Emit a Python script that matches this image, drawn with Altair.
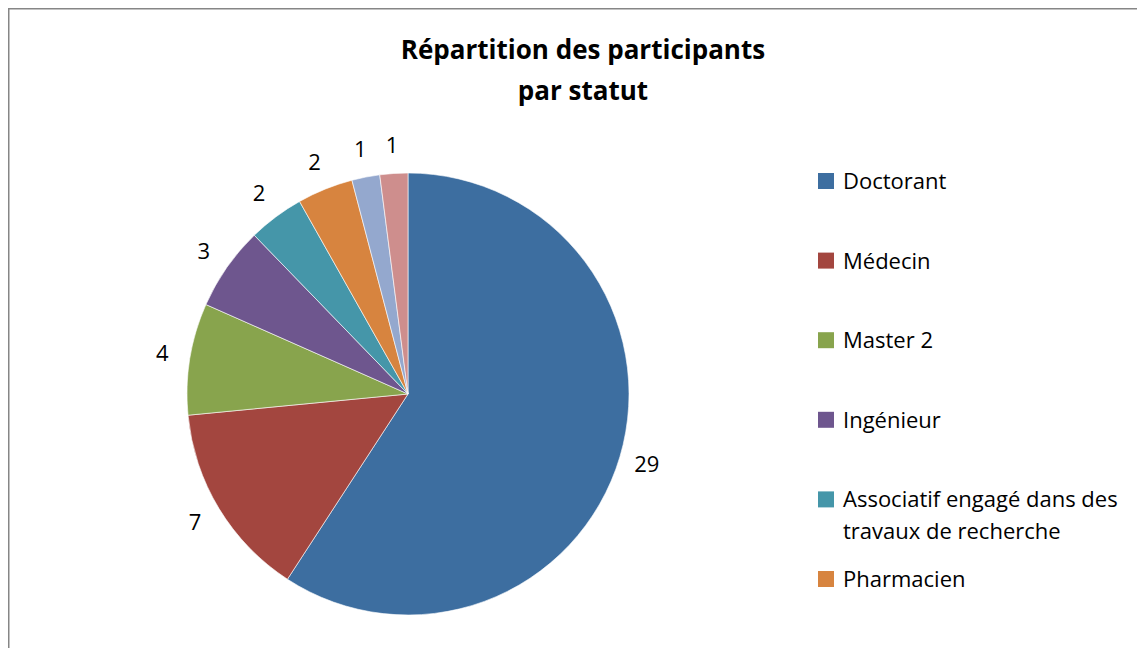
import altair as alt
import pandas as pd

# ---- data ----
categories = [
    "Doctorant",
    "Médecin",
    "Master 2",
    "Ingénieur",
    "Associatif engagé dans des travaux de recherche",
    "Pharmacien",
    "Autre 1",
    "Autre 2",
]
valeurs = [29, 7, 4, 3, 2, 2, 1, 1]
couleurs = ["#3D6EA0", "#A3463F", "#88A44D", "#6E568E", "#4596A9", "#D7843F", "#94A8CE", "#CE8E8D"]
legende_visible = categories[:6]
etiquettes_legende = [
    "Doctorant",
    "Médecin",
    "Master 2",
    "Ingénieur",
    "Associatif engagé dans des\ntravaux de recherche",
    "Pharmacien",
    "Autre 1",
    "Autre 2",
]
titre_lignes = ["Répartition des participants", "par statut"]

df = pd.DataFrame({
    "categorie": categories,
    "valeur": valeurs,
    "ordre": list(range(len(categories))),
    "etiquette": etiquettes_legende,
})

FONT = "Open Sans"
W, H = 1129, 640
CX, CY, R = 400, 386, 221

color = alt.Color("categorie:N", scale=alt.Scale(domain=categories, range=couleurs), legend=None)

base = alt.Chart(df)

pie = base.mark_arc(outerRadius=R, stroke="white", strokeWidth=0.6).encode(
    theta=alt.Theta("valeur:Q", stack=True),
    order=alt.Order("ordre:Q"),
    color=color,
    x=alt.value(CX),
    y=alt.value(CY),
)

labels = base.mark_text(radius=R + 28, font=FONT, fontSize=22, color="black",
                        align="center", baseline="middle").encode(
    theta=alt.Theta("valeur:Q", stack=True),
    order=alt.Order("ordre:Q"),
    text=alt.Text("valeur:Q"),
    x=alt.value(CX),
    y=alt.value(CY),
)

leg_y = alt.Y("categorie:N",
              scale=alt.Scale(type="point", domain=legende_visible, range=[173, 571], padding=0),
              axis=None)

leg_sym = base.transform_filter(
    alt.FieldOneOfPredicate(field="categorie", oneOf=legende_visible)
).mark_square(size=256, opacity=1, filled=True).encode(
    x=alt.value(818),
    y=leg_y,
    color=color,
)

leg_txt = base.transform_filter(
    alt.FieldOneOfPredicate(field="categorie", oneOf=legende_visible)
).mark_text(font=FONT, fontSize=22, color="black", align="left", baseline="alphabetic",
            dy=8, lineBreak="\n", lineHeight=32).encode(
    x=alt.value(835),
    y=leg_y,
    text="etiquette:N",
)

titre = alt.Chart(pd.DataFrame({"t": [0]})).mark_text(
    text=titre_lignes, font=FONT, fontSize=26, fontWeight="bold", color="black",
    align="center", baseline="alphabetic", lineHeight=41,
).encode(x=alt.value(575), y=alt.value(51))

cadre_gauche = alt.Chart(pd.DataFrame({"t": [0]})).mark_rule(color="#868686", strokeWidth=1.5).encode(
    x=alt.value(0.75), y=alt.value(0), y2=alt.value(H)
)
cadre_haut = alt.Chart(pd.DataFrame({"t": [0]})).mark_rule(color="#868686", strokeWidth=1.5).encode(
    x=alt.value(0), x2=alt.value(W), y=alt.value(0.75)
)

chart = alt.layer(cadre_gauche, cadre_haut, pie, labels, leg_sym, leg_txt, titre).properties(
    width=W, height=H, autosize=alt.AutoSizeParams(type="none"), padding=0,
).configure_view(stroke=None)

chart.save("out.html", embed_options={"renderer": "svg", "actions": False})
